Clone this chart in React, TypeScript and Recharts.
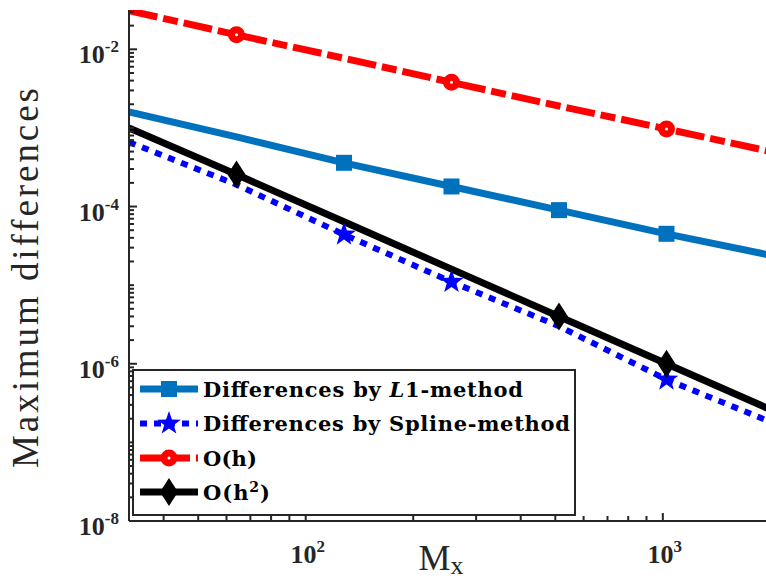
import { LineChart, Line, XAxis, YAxis, Legend } from "recharts";

const MX = [32, 64, 128, 256, 512, 1024, 2048];
const L1_DIFF = [1.6e-3, 7.7e-4, 3.6e-4, 1.8e-4, 9.0e-5, 4.5e-5, 2.35e-5];
const SPLINE_DIFF = [6.6e-4, 1.9e-4, 4.4e-5, 1.1e-5, 3.0e-6, 6.3e-7, 1.75e-7];
const ORDER_H = [3.1e-2, 1.53e-2, 7.7e-3, 3.8e-3, 1.9e-3, 9.7e-4, 4.9e-4];
const ORDER_H2 = [1.0e-3, 2.55e-4, 6.4e-5, 1.6e-5, 4.0e-6, 1.0e-6, 2.5e-7];

// which points carry a marker
const L1_MARKS = [128, 256, 512, 1024];
const SPLINE_MARKS = [128, 256, 1024];
const H_MARKS = [64, 256, 1024];
const H2_MARKS = [64, 512, 1024];

// axis ticks
const X_DECADES = [10, 100, 1000];
const Y_DECADES = [1e-8, 1e-7, 1e-6, 1e-5, 1e-4, 1e-3, 1e-2];
const Y_LABELS = [-8, -6, -4, -2];
const X_LABELS = [2, 3];
const X_DOMAIN = [32, 2048];
const Y_DOMAIN = [1e-8, 0.031623];

const data = MX.map((m, i) => ({
  M: m,
  l1: L1_DIFF[i],
  spline: SPLINE_DIFF[i],
  oh: ORDER_H[i],
  oh2: ORDER_H2[i],
}));

const buildTicks = (decades: number[], domain: number[]) => {
  const out: number[] = [];
  decades.forEach((d) => {
    for (let k = 1; k <= 9; k++) {
      const v = d * k;
      if (v >= domain[0] * 0.999 && v <= domain[1] * 1.001) out.push(v);
    }
  });
  return out;
};

const xTicks = buildTicks(X_DECADES, X_DOMAIN);
const yTicks = buildTicks(Y_DECADES, Y_DOMAIN);

const AXIS = "#262626";
const BLUE = "#0072BD";
const SPLINE_BLUE = "#0000FF";
const RED = "#FF0000";

const isDecade = (v: number) => {
  const e = Math.log10(v);
  return Math.abs(e - Math.round(e)) < 1e-6;
};

const tickFont = {
  fontFamily: "Liberation Serif",
  fontWeight: "bold" as const,
  fill: AXIS,
};

const BottomTick = (props: any) => {
  const { x, y, payload } = props;
  const v = payload.value;
  const major = isDecade(v);
  const e = Math.round(Math.log10(v));
  return (
    <g>
      <line x1={x} x2={x} y1={y} y2={y - (major ? 8 : 5)} stroke={AXIS} strokeWidth={2} />
      {major && X_LABELS.includes(e) && (
        <text x={x + 2} y={y + 42} textAnchor="middle" fontSize={26} {...tickFont}>
          10
          <tspan fontSize={17} dy={-11}>
            {e}
          </tspan>
        </text>
      )}
    </g>
  );
};

const TopTick = (props: any) => {
  const { x, y, payload } = props;
  const major = isDecade(payload.value);
  return <line x1={x} x2={x} y1={y} y2={y + (major ? 8 : 5)} stroke={AXIS} strokeWidth={2} />;
};

const LeftTick = (props: any) => {
  const { x, y, payload } = props;
  const v = payload.value;
  const major = isDecade(v);
  const e = Math.round(Math.log10(v));
  const labelled = major && Y_LABELS.includes(e);
  return (
    <g>
      <line x1={x} x2={x + (labelled ? 8 : 5)} y1={y} y2={y} stroke={AXIS} strokeWidth={2} />
      {labelled && (
        <text x={x - 10} y={y + 14} textAnchor="end" fontSize={26} {...tickFont}>
          10
          <tspan fontSize={17} dy={-11}>
            {e}
          </tspan>
        </text>
      )}
    </g>
  );
};

const starPath = (cx: number, cy: number, R: number, r: number) => {
  let d = "";
  for (let i = 0; i < 10; i++) {
    const a = -Math.PI / 2 + (i * Math.PI) / 5;
    const rad = i % 2 === 0 ? R : r;
    d += (i ? "L" : "M") + (cx + rad * Math.cos(a)).toFixed(2) + " " + (cy + rad * Math.sin(a)).toFixed(2);
  }
  return d + "Z";
};

type MarkerKind = "square" | "star" | "circle" | "diamond";

const Marker = ({ kind, cx, cy }: { kind: MarkerKind; cx: number; cy: number }) => {
  if (kind === "square")
    return <rect x={cx - 8} y={cy - 8} width={16} height={16} fill={BLUE} />;
  if (kind === "star") return <path d={starPath(cx, cy, 12.5, 5)} fill={SPLINE_BLUE} />;
  if (kind === "circle")
    return <circle cx={cx} cy={cy} r={5} fill="#fff" stroke={RED} strokeWidth={7} />;
  return (
    <path
      d={`M${cx} ${cy - 14} L${cx + 9} ${cy} L${cx} ${cy + 14} L${cx - 9} ${cy} Z`}
      fill="#000"
    />
  );
};

const markerDot = (kind: MarkerKind, marks: number[]) => (props: any) => {
  const { cx, cy, payload, index } = props;
  if (!marks.includes(payload.M) || cx == null || cy == null) return <g key={`e-${kind}-${index}`} />;
  return (
    <g key={`m-${kind}-${index}`}>
      <Marker kind={kind} cx={cx} cy={cy} />
    </g>
  );
};

const LEGEND_ROWS = [
  { color: BLUE, dash: undefined, width: 7, marker: "square" as MarkerKind, len: 320 },
  { color: SPLINE_BLUE, dash: "7 7", width: 6, marker: "star" as MarkerKind, len: 367 },
  { color: RED, dash: "29 6 15 6", width: 7, marker: "circle" as MarkerKind, len: 54 },
  { color: "#000", dash: undefined, width: 7, marker: "diamond" as MarkerKind, len: 67 },
];
const ROW_Y = [20, 54.5, 89, 123];

const legendText = (i: number) => {
  if (i === 0)
    return (
      <>
        Differences by <tspan fontStyle="italic">L</tspan>1-method
      </>
    );
  if (i === 1) return "Differences by Spline-method";
  if (i === 2) return "O(h)";
  return (
    <>
      O(h
      <tspan fontSize={14} dy={-8}>
        2
      </tspan>
      <tspan dy={8}>)</tspan>
    </>
  );
};

const LegendBox = () => (
  <svg width={446} height={149} style={{ display: "block" }}>
    <rect x={1} y={1} width={442} height={145} fill="#fff" stroke={AXIS} strokeWidth={2} />
    {LEGEND_ROWS.map((row, i) => {
      const cy = ROW_Y[i];
      return (
        <g key={i}>
          <line
            x1={8}
            x2={66}
            y1={cy}
            y2={cy}
            stroke={row.color}
            strokeWidth={row.width}
            strokeDasharray={row.dash}
          />
          <Marker kind={row.marker} cx={37} cy={cy} />
          <text
            x={71}
            y={cy + 7.5}
            fontFamily="DejaVu Serif"
            fontWeight="bold"
            fontSize={21}
            fill="#000"
            textLength={row.len}
            lengthAdjust="spacing"
          >
            {legendText(i)}
          </text>
        </g>
      );
    })}
  </svg>
);

const YTitle = () => (
  <text
    transform="rotate(-90)"
    x={-278}
    y={38}
    textAnchor="middle"
    fontFamily="Liberation Serif"
    fontSize={37}
    fill={AXIS}
    textLength={380}
    lengthAdjust="spacing"
  >
    Maximum differences
  </text>
);

const XTitle = () => (
  <text x={441} y={570} textAnchor="middle" fontFamily="Liberation Serif" fontSize={36} fill={AXIS}>
    M
    <tspan fontSize={26} dy={4}>
      x
    </tspan>
  </text>
);

export default function App() {
  return (
    <div
      style={{
        position: "absolute",
        left: 0,
        top: 0,
        width: 766,
        height: 583,
        overflow: "hidden",
        background: "#fff",
      }}
    >
      <LineChart width={775} height={583} data={data} margin={{ top: 10, right: 1, bottom: 0, left: 0 }}>
        <XAxis
          dataKey="M"
          type="number"
          scale="log"
          domain={X_DOMAIN}
          allowDataOverflow
          ticks={xTicks}
          interval={0}
          tickSize={0}
          tickMargin={0}
          tickLine={false}
          tick={BottomTick}
          axisLine={{ stroke: AXIS, strokeWidth: 2 }}
          height={62}
          label={<XTitle />}
        />
        <XAxis
          xAxisId="top"
          orientation="top"
          dataKey="M"
          type="number"
          scale="log"
          domain={X_DOMAIN}
          allowDataOverflow
          ticks={xTicks}
          interval={0}
          tickSize={0}
          tickMargin={0}
          tickLine={false}
          tick={TopTick}
          axisLine={{ stroke: AXIS, strokeWidth: 2 }}
          height={0}
        />
        <YAxis
          type="number"
          scale="log"
          domain={Y_DOMAIN}
          allowDataOverflow
          ticks={yTicks}
          interval={0}
          tickSize={0}
          tickMargin={0}
          tickLine={false}
          tick={LeftTick}
          axisLine={{ stroke: AXIS, strokeWidth: 2 }}
          width={129}
          label={<YTitle />}
        />
        <Line
          dataKey="l1"
          stroke={BLUE}
          strokeWidth={7}
          dot={markerDot("square", L1_MARKS)}
          activeDot={false}
          isAnimationActive={false}
        />
        <Line
          dataKey="spline"
          stroke={SPLINE_BLUE}
          strokeWidth={6}
          strokeDasharray="7 7"
          dot={markerDot("star", SPLINE_MARKS)}
          activeDot={false}
          isAnimationActive={false}
        />
        <Line
          dataKey="oh"
          stroke={RED}
          strokeWidth={7}
          strokeDasharray="29 6 15 6"
          dot={markerDot("circle", H_MARKS)}
          activeDot={false}
          isAnimationActive={false}
        />
        <Line
          dataKey="oh2"
          stroke="#000"
          strokeWidth={7}
          dot={markerDot("diamond", H2_MARKS)}
          activeDot={false}
          isAnimationActive={false}
        />
        <Legend
          layout="vertical"
          align="center"
          verticalAlign="middle"
          content={<LegendBox />}
          wrapperStyle={{ position: "absolute", left: 132, top: 369, width: 446, height: 149 }}
        />
      </LineChart>
    </div>
  );
}
